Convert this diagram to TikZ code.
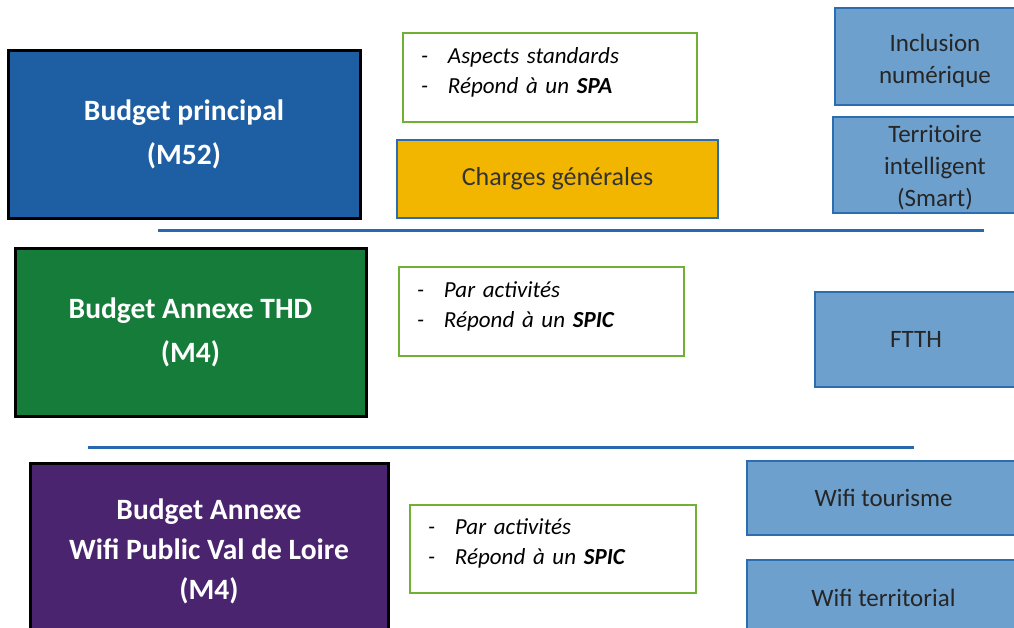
\documentclass[tikz,border=0pt]{standalone}
\usepackage{fontspec}
\setmainfont{Carlito}
\definecolor{budgetblue}{RGB}{30,94,162}
\definecolor{budgetgreen}{RGB}{22,124,58}
\definecolor{budgetpurple}{RGB}{74,36,110}
\definecolor{chargeorange}{RGB}{242,182,0}
\definecolor{servfill}{RGB}{110,160,206}
\definecolor{servline}{RGB}{44,108,176}
\definecolor{notegreen}{RGB}{112,176,52}
\definecolor{sepblue}{RGB}{40,104,174}
\tikzset{
  budget/.style={draw=black, line width=3pt, text=white, align=center,
    font=\fontsize{29.5}{44}\selectfont\bfseries},
  notebox/.style={draw=notegreen, fill=white, line width=2.5pt, align=left,
    inner xsep=18pt, font=\fontsize{23}{30}\selectfont\itshape},
  servbox/.style={draw=servline, fill=servfill, line width=2.5pt, align=center,
    text=black!85, font=\fontsize{25}{32}\selectfont},
  sepline/.style={draw=sepblue, line width=3pt}
}
\newcommand{\dashitem}[1]{\makebox[27pt][l]{-}#1}
\begin{document}
\begin{tikzpicture}[x=1pt,y=-1pt]
\useasboundingbox (0,0) rectangle (1014,627);
% budgets
\node[budget, fill=budgetblue, minimum width=352pt, minimum height=168pt] (bp) at (184,134)
{Budget principal\\(M52)};
\node[budget, fill=budgetgreen, minimum width=351pt, minimum height=168pt] (thd) at (190.5,332)
{Budget Annexe THD\\(M4)};
\node[budget, fill=budgetpurple, minimum width=358pt, minimum height=177pt,
  font=\fontsize{29.5}{40}\selectfont\bfseries] (wifi) at (209,551.5)
{Budget Annexe\\Wifi Public Val de Loire\\(M4)};
% notes
\node[notebox, text width=258pt, minimum height=89pt] (spa) at (550,77.5)
{\dashitem{Aspects standards}\\\dashitem{Répond à un \textbf{SPA}}\rule[-14pt]{0pt}{0pt}};
\node[notebox, text width=249pt, minimum height=89pt] (spic1) at (541.5,311.5)
{\dashitem{Par activités}\\\dashitem{Répond à un \textbf{SPIC}}\rule[-14pt]{0pt}{0pt}};
\node[notebox, text width=250pt, minimum height=88pt] (spic2) at (553,549)
{\dashitem{Par activités}\\\dashitem{Répond à un \textbf{SPIC}}\rule[-14pt]{0pt}{0pt}};
\node[draw=servline, fill=chargeorange, line width=2.5pt, text=black!80,
  font=\fontsize{26}{32}\selectfont, minimum width=321pt, minimum height=78pt] (charges) at (557.5,179)
{Charges générales};
% services
\node[servbox, minimum width=200pt, minimum height=97pt] (incl) at (935,56.5)
{\rule{0pt}{27pt}Inclusion\\numérique};
\node[servbox, inner ysep=1pt, minimum width=204pt, minimum height=96pt] (terr) at (935,165)
{\rule{0pt}{23pt}Territoire\\intelligent\\(Smart)};
\node[servbox, minimum width=202pt, minimum height=95pt] (ftth) at (916,339.5)
{FTTH};
\node[servbox, minimum width=273pt, minimum height=74pt] (wtour) at (883.5,498)
{Wifi tourisme};
\node[servbox, minimum width=273pt, minimum height=76pt] (wterr) at (883.5,598)
{Wifi territorial};
% separators
\draw[sepline] (158,230) -- (984,230);
\draw[sepline] (88,447) -- (914,447);
\end{tikzpicture}
\end{document}
